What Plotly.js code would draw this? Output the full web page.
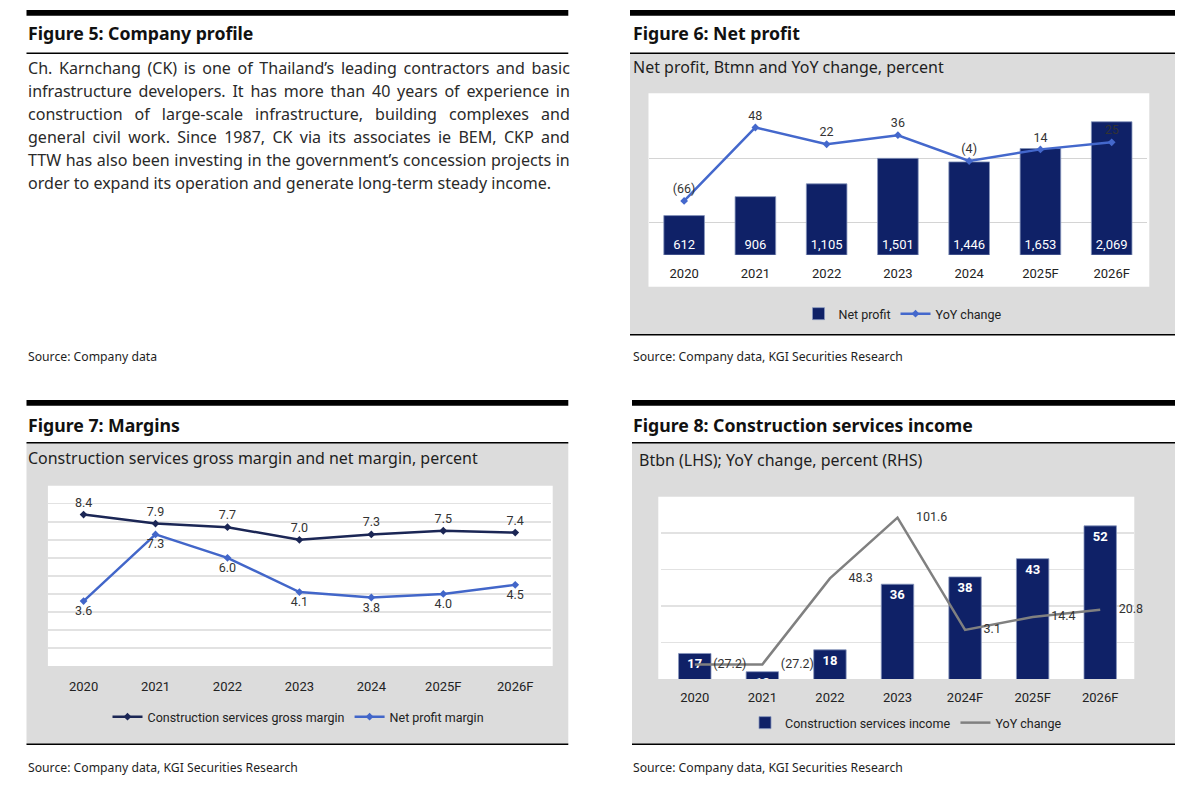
<!DOCTYPE html>
<html>
<head>
<meta charset="utf-8">
<script src="https://cdn.plot.ly/plotly-3.0.1.min.js"></script>
<style>html,body{margin:0;padding:0;background:#fff;}#chart{width:1200px;height:792px;}</style>
</head>
<body>
<div id="chart"></div>
<script>
// ---------------- DATA ----------------
const years6 = ['2020','2021','2022','2023','2024','2025F','2026F'];
const netProfit = [612, 906, 1105, 1501, 1446, 1653, 2069];
const netProfitYoY = [-66, 48, 22, 36, -4, 14, 25];

const years7 = ['2020','2021','2022','2023','2024','2025F','2026F'];
const grossMargin = [8.4, 7.9, 7.7, 7.0, 7.3, 7.5, 7.4];
const netMargin = [3.6, 7.3, 6.0, 4.1, 3.8, 4.0, 4.5];

const years8 = ['2020','2021','2022','2023','2024F','2025F','2026F'];
const csIncome = [17, 12, 18, 36, 38, 43, 52];
const csYoY = [-27.2, -27.2, 48.3, 101.6, 3.1, 14.4, 20.8];

const titles = ['Figure 5: Company profile','Figure 6: Net profit','Figure 7: Margins','Figure 8: Construction services income'];
const subtitles = ['Net profit, Btmn and YoY change, percent','Construction services gross margin and net margin, percent','Btbn (LHS); YoY change, percent (RHS)'];
const sources = ['Source: Company data','Source: Company data, KGI Securities Research'];
const profileLines = [
 'Ch. Karnchang (CK) is one of Thailand\u2019s leading contractors and basic',
 'infrastructure developers. It has more than 40 years of experience in',
 'construction of large-scale infrastructure, building complexes and',
 'general civil work. Since 1987, CK via its associates ie BEM, CKP and',
 'TTW has also been investing in the government\u2019s concession projects in',
 'order to expand its operation and generate long-term steady income.'
];

// ---------------- HELPERS ----------------
const W = 1200, H = 792;
const X = v => v / W;
const Y = v => 1 - v / H;
const cv = document.createElement('canvas').getContext('2d');
function measure(text, family, weight, size){ cv.font = weight + ' ' + size + 'px "' + family + '"'; return cv.measureText(text).width; }
function fit(text, family, weight, target){ return 20 * target / measure(text, family, weight, 20); }
const paren = (v, d) => v < 0 ? '(' + (-v).toFixed(d) + ')' : v.toFixed(d);

const NAVY = '#0f2167';
const GRAY_BG = '#dcdcdc';
const TXT = '#1e1e1e';
const TF = 'Noto Sans';
const CF = 'Roboto';

function rect(x0, y0, x1, y1, color){
  return {type:'rect', xref:'paper', yref:'paper', x0:X(x0), x1:X(x1), y0:Y(y1), y1:Y(y0), fillcolor:color, line:{width:0}, layer:'below'};
}
function ann(text, x, y, size, opts){
  return Object.assign({text:text, xref:'paper', yref:'paper', x:X(x), y:Y(y), xanchor:'left', yanchor:'middle', showarrow:false,
    font:{family:TF, size:size, color:TXT}, borderpad:0}, opts||{});
}

// ---------------- SHAPES ----------------
const shapes = [
  rect(630, 53.3, 1175, 335, GRAY_BG),
  rect(26.5, 443, 568.3, 744, GRAY_BG),
  rect(632, 443, 1175, 744, GRAY_BG),
  rect(648.5, 93.3, 1149.3, 286.7, '#ffffff'),
  rect(47.9, 485.7, 552.7, 666, '#ffffff'),
  rect(658.3, 496.7, 1134.3, 679, '#ffffff'),
  // thick top bars
  rect(26.5, 10, 568.3, 15.7, '#000'),
  rect(630, 10, 1175, 15.7, '#000'),
  rect(26.5, 400, 568.3, 405.7, '#000'),
  rect(632, 400, 1175, 405.7, '#000'),
  // thin rules
  rect(26.5, 52.5, 568.3, 54, '#000'),
  rect(630, 52.5, 1175, 54, '#000'),
  rect(26.5, 442, 568.3, 443.5, '#000'),
  rect(632, 442, 1175, 443.5, '#000'),
  rect(630, 334, 1175, 335.5, '#000'),
  rect(26.5, 743.5, 568.3, 745, '#000'),
  rect(632, 743.5, 1175, 745, '#000')
];

// ---------------- TEXT ----------------
const titleSize = fit(titles[3], TF, 'bold', 340);
const subSize = fit(subtitles[1], TF, 'normal', 450);
const srcSize = fit(sources[1], TF, 'normal', 270);
const paraSize = fit(profileLines[5], TF, 'normal', 523.5);

const annotations = [
  ann(titles[0], 26.5, 33.5, titleSize, {font:{family:TF, size:titleSize, color:'#111', weight:'bold'}}),
  ann(titles[1], 632, 33.5, titleSize, {font:{family:TF, size:titleSize, color:'#111', weight:'bold'}}),
  ann(titles[2], 26.5, 424.5, titleSize, {font:{family:TF, size:titleSize, color:'#111', weight:'bold'}}),
  ann(titles[3], 632, 424.5, titleSize, {font:{family:TF, size:titleSize, color:'#111', weight:'bold'}}),
  ann(subtitles[0], 632, 66.7, subSize),
  ann(subtitles[1], 26.5, 458, subSize),
  ann(subtitles[2], 637.8, 460, subSize),
  ann(sources[0], 27, 356.5, srcSize),
  ann(sources[1], 632, 356.5, srcSize),
  ann(sources[1], 26.5, 767, srcSize),
  ann(sources[1], 632, 767, srcSize)
];
profileLines.forEach((ln, i) => {
  let txt = ln;
  if (i < profileLines.length - 1) {
    const w = measure(ln, TF, 'normal', paraSize);
    const n = (ln.match(/ /g) || []).length;
    const ws = (541.8 - w) / n;
    txt = '<span style="word-spacing:' + ws.toFixed(2) + 'px">' + ln + '</span>';
  }
  annotations.push(ann(txt, 26.5, 67.7 + i * 23, paraSize, {font:{family:TF, size:paraSize, color:'#2a2a2a'}}));
});

// ---------------- TRACES ----------------
const traces = [
  {type:'bar', name:'Net profit', x:years6, y:netProfit, xaxis:'x', yaxis:'y', legend:'legend',
   marker:{color:NAVY, line:{color:'#8796bd', width:0.8}}, width:0.57,
   texttemplate:'%{y:,}', textposition:'inside', insidetextanchor:'start',
   textfont:{family:CF, size:13, color:'#ffffff'}, constraintext:'none', hoverinfo:'skip'},
  {type:'scatter', name:'YoY change', x:years6, y:netProfitYoY, xaxis:'x', yaxis:'y2', legend:'legend',
   mode:'lines+markers+text', line:{color:'#4468cc', width:2.5}, marker:{symbol:'diamond', size:6, color:'#4468cc'},
   text:netProfitYoY.map(v => paren(v, 0)), textposition:'top center', cliponaxis:false,
   textfont:{family:CF, size:12.5, color:'#333'}, hoverinfo:'skip'},

  {type:'scatter', name:'Construction services gross margin', x:years7, y:grossMargin, xaxis:'x2', yaxis:'y3', legend:'legend2',
   mode:'lines+markers+text', line:{color:'#1b2655', width:2.5}, marker:{symbol:'diamond', size:6, color:'#1b2655'},
   text:grossMargin.map(v => v.toFixed(1)), textposition:'top center', cliponaxis:false,
   textfont:{family:CF, size:12.5, color:'#333'}, hoverinfo:'skip'},
  {type:'scatter', name:'Net profit margin', x:years7, y:netMargin, xaxis:'x2', yaxis:'y3', legend:'legend2',
   mode:'lines+markers+text', line:{color:'#4266c9', width:2.5}, marker:{symbol:'diamond', size:6, color:'#4266c9'},
   text:netMargin.map(v => v.toFixed(1)), textposition:'bottom center', cliponaxis:false,
   textfont:{family:CF, size:12.5, color:'#333'}, hoverinfo:'skip'},

  {type:'bar', name:'Construction services income', x:years8, y:csIncome, xaxis:'x3', yaxis:'y4', legend:'legend3',
   marker:{color:NAVY, line:{color:'#8796bd', width:0.8}}, width:0.48,
   text:csIncome.map(v => String(v)), textposition:'inside', insidetextanchor:'end', constraintext:'none',
   textfont:{family:CF, size:13, color:'#ffffff', weight:'bold'}, hoverinfo:'skip'},
  {type:'scatter', name:'YoY change', x:years8, y:csYoY, xaxis:'x3', yaxis:'y5', legend:'legend3',
   mode:'lines+markers+text', line:{color:'#808080', width:2.5}, marker:{size:28, color:'rgba(0,0,0,0)'},
   text:csYoY.map(v => paren(v, 1)), textposition:'middle right', cliponaxis:false,
   textfont:{family:CF, size:12.5, color:'#333'}, hoverinfo:'skip'}
];

const tickFont = {family:CF, size:13, color:'#222'};
const xcommon = {type:'category', showgrid:false, showline:false, zeroline:false, ticks:'', tickfont:tickFont, fixedrange:true};
const legCommon = {orientation:'h', xanchor:'center', yanchor:'middle', bgcolor:'rgba(0,0,0,0)', font:{family:CF, size:12.5, color:'#222'}, itemwidth:30, tracegroupgap:0};

const layout = {
  width:W, height:H, margin:{l:0, r:0, t:0, b:0},
  paper_bgcolor:'#ffffff', plot_bgcolor:'rgba(0,0,0,0)',
  showlegend:true, bargap:0.4,
  xaxis: Object.assign({}, xcommon, {domain:[X(648.5), X(1147.3)], anchor:'y', ticklabelstandoff:9, range:[-0.5, 6.5]}),
  yaxis: {domain:[Y(255), Y(94)], range:[0, 2500], showgrid:false, showticklabels:false, zeroline:false, anchor:'x'},
  yaxis2: {overlaying:'y', side:'right', range:[-150, 100], dtick:100, tick0:0, showgrid:true, gridcolor:'#d4d4d4', gridwidth:1,
           showticklabels:false, zeroline:false, anchor:'x'},
  xaxis2: Object.assign({}, xcommon, {domain:[X(47.6), X(551.2)], anchor:'y3', ticklabelstandoff:11, range:[-0.5, 6.5]}),
  yaxis3: {domain:[Y(666), Y(485.7)], range:[0, 10], dtick:1, showgrid:true, gridcolor:'#e2e2e2', gridwidth:1.5,
           showticklabels:false, zeroline:false, anchor:'x2'},
  xaxis3: Object.assign({}, xcommon, {domain:[X(661), X(1134)], anchor:'y4', ticklabelstandoff:9, range:[-0.5, 6.5]}),
  yaxis4: {domain:[Y(679), Y(496.7)], range:[10, 60], dtick:10, showgrid:true, gridcolor:'#e2e2e2', gridwidth:1.5,
           showticklabels:false, zeroline:false, anchor:'x3'},
  yaxis5: {overlaying:'y4', side:'right', range:[-40, 120], showgrid:false, showticklabels:false, zeroline:false, anchor:'x3'},
  legend: Object.assign({}, legCommon, {x:X(903), y:Y(314)}),
  legend2: Object.assign({}, legCommon, {x:X(298.5), y:Y(717)}),
  legend3: Object.assign({}, legCommon, {x:X(906), y:Y(723)}),
  shapes: shapes,
  annotations: annotations
};

Plotly.newPlot('chart', traces, layout, {displayModeBar:false, staticPlot:true});
</script>
</body>
</html>
